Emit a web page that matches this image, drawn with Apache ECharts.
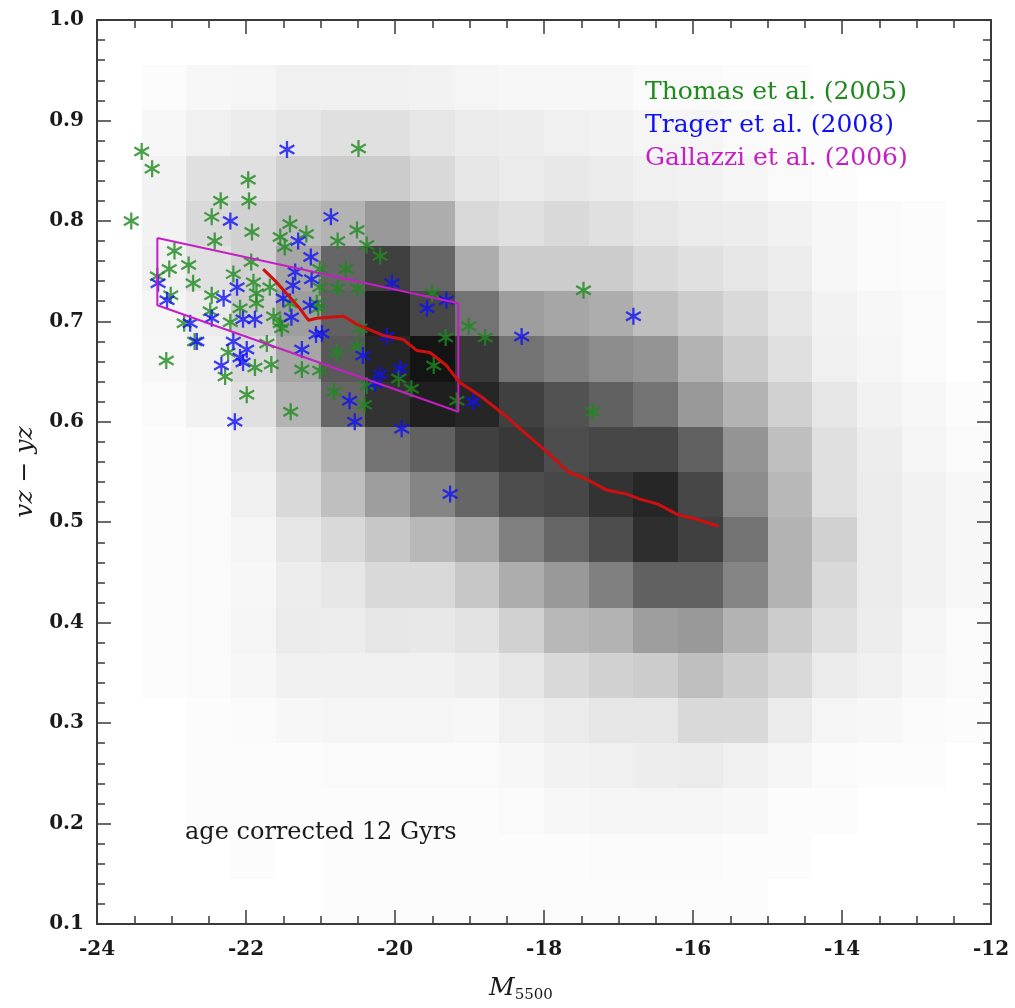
<!DOCTYPE html>
<html>
<head>
<meta charset="utf-8">
<script src="https://cdn.jsdelivr.net/npm/echarts@6/dist/echarts.min.js"></script>
<style>html,body{margin:0;padding:0;background:#fff;overflow:hidden;}#c{width:1015px;height:1008px;}</style>
</head>
<body>
<div id="c"></div>
<script>
// ---- data ----
const xEdges = [-24, -23.4, -22.8, -22.2, -21.6, -21.0, -20.4, -19.8, -19.2, -18.6, -18.0, -17.4, -16.8, -16.2, -15.6, -15.0, -14.4, -13.8, -13.2, -12.6, -12.0];
const yEdges = [0.1, 0.145, 0.19, 0.235, 0.28, 0.325, 0.37, 0.415, 0.46, 0.505, 0.55, 0.595, 0.64, 0.685, 0.73, 0.775, 0.82, 0.865, 0.91, 0.955];
// density (grey darkness, %) per row, bottom row first, columns left to right
const row0  = [0,0,0,0,0,1,1,1,1,1,1,1,1,1,1,0,0,0,0,0];
const row1  = [0,0,0,1,0,1,1,1,1,1,1,2,2,2,1,1,0,0,0,0];
const row2  = [0,0,1,1,1,1,1,1,1,2,3,4,4,4,3,1,1,0,0,0];
const row3  = [0,0,1,1,1,2,2,2,2,3,5,6,7,8,6,4,2,1,1,0];
const row4  = [0,0,1,2,3,4,4,4,3,6,8,10,10,15,15,8,4,3,2,1];
const row5  = [0,1,2,3,6,6,6,6,7,10,15,18,20,25,20,15,8,6,3,2];
const row6  = [0,1,2,4,8,7,10,9,11,18,28,30,38,40,30,20,12,7,4,2];
const row7  = [0,1,2,3,7,10,15,15,22,32,40,50,62,62,48,30,15,8,5,3];
const row8  = [0,1,2,4,10,15,22,28,35,50,60,70,82,75,55,30,18,8,5,3];
const row9  = [0,1,2,6,15,25,38,48,60,70,72,80,85,72,45,28,12,8,5,3];
const row10 = [0,1,2,8,18,30,55,62,75,78,70,72,72,62,42,25,12,7,4,2];
const row11 = [0,2,5,12,30,60,80,88,85,75,68,62,55,40,30,18,10,5,3,1];
const row12 = [0,3,6,15,35,65,85,92,78,55,50,45,42,30,20,12,6,4,2,0];
const row13 = [0,4,8,20,38,62,88,72,55,38,35,32,25,20,15,10,5,3,2,0];
const row14 = [0,6,12,18,35,60,75,60,32,20,20,20,15,12,10,7,3,2,1,0];
const row15 = [0,5,15,18,26,30,40,32,15,12,15,12,10,8,7,5,3,2,1,0];
const row16 = [0,5,12,12,18,20,20,15,10,8,9,8,6,5,4,2,1,0,0,0];
const row17 = [0,3,6,8,10,12,12,10,8,7,6,5,4,4,2,1,1,0,0,0];
const row18 = [0,1,3,4,6,6,6,5,4,3,3,3,2,2,1,1,0,0,0,0];
const densityRows = [row0,row1,row2,row3,row4,row5,row6,row7,row8,row9,row10,row11,row12,row13,row14,row15,row16,row17,row18];

const thomasPoints = [[-23.40,0.869],[-23.26,0.852],[-23.54,0.800],[-21.97,0.841],[-22.34,0.820],[-21.96,0.820],[-22.46,0.804],[-21.92,0.789],[-22.42,0.780],[-20.49,0.872],[-22.96,0.770],[-22.77,0.756],[-23.03,0.752],[-22.71,0.738],[-23.01,0.726],[-23.19,0.745],[-21.41,0.797],[-21.54,0.784],[-21.19,0.787],[-21.48,0.774],[-20.77,0.780],[-20.51,0.791],[-20.38,0.776],[-20.20,0.765],[-21.93,0.759],[-22.17,0.747],[-20.66,0.752],[-22.83,0.698],[-22.69,0.680],[-23.07,0.661],[-21.99,0.627],[-21.40,0.610],[-19.01,0.695],[-18.79,0.684],[-19.32,0.684],[-19.48,0.656],[-19.50,0.728],[-21.01,0.734],[-20.77,0.733],[-20.50,0.733],[-21.03,0.713],[-20.78,0.669],[-21.25,0.652],[-21.01,0.651],[-20.82,0.630],[-20.41,0.617],[-21.66,0.657],[-22.28,0.645],[-21.88,0.654],[-19.78,0.633],[-19.17,0.621],[-19.95,0.643],[-22.46,0.726],[-21.90,0.739],[-21.86,0.728],[-21.68,0.734],[-21.86,0.718],[-22.48,0.710],[-21.01,0.752],[-22.24,0.669],[-21.72,0.678],[-21.52,0.693],[-20.51,0.675],[-20.38,0.636],[-20.47,0.693],[-17.47,0.731],[-17.35,0.610],[-21.05,0.718],[-22.21,0.699],[-21.63,0.705],[-21.54,0.698],[-21.41,0.718],[-22.08,0.713]];
const tragerPoints = [[-21.45,0.871],[-22.21,0.800],[-23.18,0.738],[-23.06,0.721],[-22.12,0.734],[-22.30,0.723],[-21.50,0.723],[-22.75,0.698],[-22.46,0.703],[-22.04,0.702],[-21.88,0.702],[-20.86,0.804],[-21.30,0.780],[-21.13,0.764],[-21.34,0.749],[-21.12,0.742],[-21.37,0.736],[-21.14,0.716],[-21.39,0.704],[-20.04,0.738],[-19.57,0.713],[-19.31,0.721],[-22.15,0.600],[-22.33,0.656],[-22.08,0.664],[-21.99,0.672],[-22.17,0.680],[-22.66,0.680],[-22.04,0.659],[-20.98,0.688],[-21.25,0.672],[-20.43,0.666],[-20.11,0.685],[-20.20,0.647],[-19.93,0.653],[-20.27,0.638],[-20.61,0.621],[-20.54,0.600],[-19.91,0.593],[-18.95,0.620],[-19.26,0.528],[-16.80,0.705],[-18.30,0.685],[-21.06,0.687]];
const gallazziBox = [[-23.19,0.783],[-19.15,0.718],[-19.15,0.610],[-23.19,0.716],[-23.19,0.783]];
const medianLine = [[-21.77,0.752],[-21.59,0.739],[-21.28,0.713],[-21.16,0.701],[-21.05,0.703],[-20.69,0.705],[-20.51,0.697],[-20.16,0.686],[-19.89,0.682],[-19.71,0.671],[-19.53,0.669],[-19.31,0.656],[-19.13,0.639],[-18.86,0.626],[-18.50,0.605],[-18.32,0.593],[-17.96,0.570],[-17.67,0.550],[-17.43,0.543],[-17.16,0.532],[-16.89,0.528],[-16.71,0.523],[-16.47,0.518],[-16.22,0.508],[-15.95,0.503],[-15.66,0.496]];
const xTicks = {min: -24, max: -12, step: 2};
const yTicks = {min: 0.1, max: 1.0, step: 0.1};
const legendTexts = ['Thomas et al. (2005)', 'Trager et al. (2008)', 'Gallazzi et al. (2006)'];
const noteText = 'age corrected 12 Gyrs';

// ---- build ----
const cells = [];
densityRows.forEach((row, j) => row.forEach((d, k) => {
  cells.push([xEdges[k], yEdges[j], xEdges[k + 1], yEdges[j + 1], d]);
}));

const SERIF = "'DejaVu Serif', 'Liberation Serif', serif";
const AX = '#3a3a3a';
const asterisk = 'path://M0,-10L0,10M-8.66,-5L8.66,5M-8.66,5L8.66,-5';
const GREEN = '#1e8a1e', BLUE = '#1010f5', MAGENTA = '#c41fc4';

function axisCommon(extra) {
  return Object.assign({
    type: 'value',
    z: 20,
    axisLine: {show: true, onZero: false, lineStyle: {color: AX, width: 2}},
    axisTick: {show: true, inside: true, length: 14, lineStyle: {color: AX, width: 1.5}},
    splitLine: {show: false},
    minorSplitLine: {show: false}
  }, extra);
}

const chart = echarts.init(document.getElementById('c'), null, {width: 1015, height: 1008});
chart.setOption({
  animation: false,
  backgroundColor: '#ffffff',
  grid: {left: 97, top: 20, width: 894, height: 914},
  xAxis: [
    axisCommon({position: 'bottom', min: xTicks.min, max: xTicks.max, interval: xTicks.step,
      minorTick: {show: true, splitNumber: 4, length: 8, lineStyle: {color: AX, width: 1.5}},
      axisLabel: {fontFamily: SERIF, fontWeight: 'bold', fontSize: 20, color: '#1a1a1a', margin: 16},
      name: '{m|M}{s|5500}', nameLocation: 'middle', nameGap: 50,
      nameTextStyle: {padding: [0, 46, 0, 0], rich: {
        m: {fontFamily: SERIF, fontStyle: 'italic', fontSize: 25, color: '#1a1a1a'},
        s: {fontFamily: SERIF, fontSize: 15, color: '#1a1a1a', padding: [14, 0, 0, 0]}
      }}}),
    axisCommon({position: 'top', min: xTicks.min, max: xTicks.max, interval: xTicks.step,
      minorTick: {show: true, splitNumber: 4, length: 8, lineStyle: {color: AX, width: 1.5}},
      axisLabel: {show: false}})
  ],
  yAxis: [
    axisCommon({position: 'left', min: yTicks.min, max: yTicks.max, interval: yTicks.step,
      minorTick: {show: true, splitNumber: 5, length: 8, lineStyle: {color: AX, width: 1.5}},
      axisLabel: {fontFamily: SERIF, fontWeight: 'bold', fontSize: 20, color: '#1a1a1a', margin: 13,
        formatter: v => v.toFixed(1)},
      name: 'vz − yz', nameLocation: 'middle', nameGap: 57,
      nameTextStyle: {fontFamily: SERIF, fontStyle: 'italic', fontSize: 25, color: '#1a1a1a'}}),
    axisCommon({position: 'right', min: yTicks.min, max: yTicks.max, interval: yTicks.step,
      minorTick: {show: true, splitNumber: 5, length: 8, lineStyle: {color: AX, width: 1.5}},
      axisLabel: {show: false}})
  ],
  series: [
    {
      type: 'custom',
      data: cells,
      encode: {x: [0, 2], y: [1, 3]},
      silent: true,
      z: 1,
      renderItem: function (params, api) {
        const p1 = api.coord([api.value(0), api.value(3)]);
        const p2 = api.coord([api.value(2), api.value(1)]);
        const x0 = Math.round(p1[0]), y0 = Math.round(p1[1]);
        const x1 = Math.round(p2[0]), y1 = Math.round(p2[1]);
        const g = Math.round(255 * (1 - api.value(4) / 100));
        return {
          type: 'rect',
          shape: {x: x0, y: y0, width: x1 - x0, height: y1 - y0},
          style: {fill: 'rgb(' + g + ',' + g + ',' + g + ')'}
        };
      }
    },
    {
      type: 'scatter', name: legendTexts[0], data: thomasPoints, z: 3,
      symbol: asterisk, symbolSize: 17, symbolKeepAspect: true,
      itemStyle: {color: 'rgba(0,0,0,0)', borderColor: GREEN, borderWidth: 2.3}
    },
    {
      type: 'scatter', name: legendTexts[1], data: tragerPoints, z: 4,
      symbol: asterisk, symbolSize: 17, symbolKeepAspect: true,
      itemStyle: {color: 'rgba(0,0,0,0)', borderColor: BLUE, borderWidth: 2.3}
    },
    {
      type: 'line', name: legendTexts[2], data: gallazziBox, z: 5,
      showSymbol: false, symbol: 'none',
      lineStyle: {color: MAGENTA, width: 2}
    },
    {
      type: 'line', data: medianLine, z: 6,
      showSymbol: false, symbol: 'none',
      lineStyle: {color: '#d01010', width: 3}
    }
  ],
  graphic: [
    {type: 'text', z: 100, left: 645, top: 80, style: {text: legendTexts[0], fill: GREEN, font: "25px 'DejaVu Serif'"}},
    {type: 'text', z: 100, left: 645, top: 113, style: {text: legendTexts[1], fill: BLUE, font: "25px 'DejaVu Serif'"}},
    {type: 'text', z: 100, left: 645, top: 146, style: {text: legendTexts[2], fill: MAGENTA, font: "25px 'DejaVu Serif'"}},
    {type: 'text', z: 100, left: 185, top: 821, style: {text: noteText, fill: '#1a1a1a', font: "24px 'DejaVu Serif'"}}
  ]
});
</script>
</body>
</html>
